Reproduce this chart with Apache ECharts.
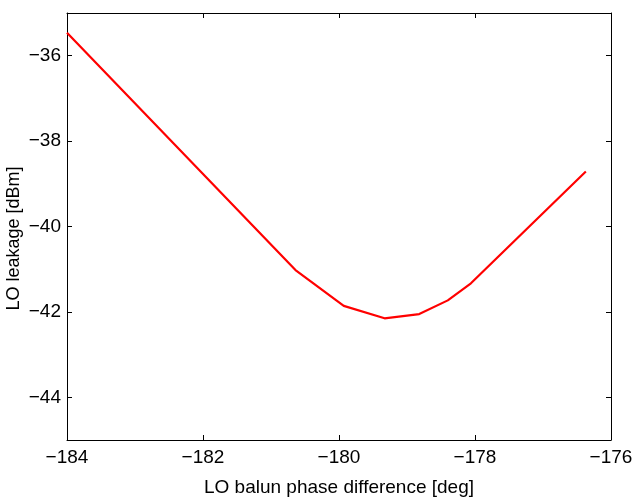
<!DOCTYPE html>
<html>
<head>
<meta charset="utf-8">
<script src="https://cdn.jsdelivr.net/npm/echarts@6/dist/echarts.min.js"></script>
<style>
html,body{margin:0;padding:0;background:#fff;}
#chart{width:633px;height:499px;}
</style>
</head>
<body>
<div id="chart"></div>
<script>
const phaseDeg = [-184, -180.64, -179.93, -179.33, -178.82, -178.40, -178.06, -176.37];
const leakageDbm = [-35.46, -41.02, -41.86, -42.15, -42.05, -41.73, -41.33, -38.71];
const xTicks = [-184, -182, -180, -178, -176];
const yTicks = [-44, -42, -40, -38, -36];

const fmt = v => String(v).replace('-', '\u2212');
const FONT = '"Liberation Sans", Arial, sans-serif';

const chart = echarts.init(document.getElementById('chart'), null, {renderer: 'canvas'});
const axisLine = {show: true, onZero: false, lineStyle: {color: '#000', width: 1}};
const tick = {show: true, inside: true, length: 5, lineStyle: {color: '#000', width: 1}};

chart.setOption({
  animation: false,
  backgroundColor: '#fff',
  grid: {left: 67, right: 22, top: 13, bottom: 59, containLabel: false, outerBoundsMode: 'none'},
  xAxis: [
    {
      type: 'value', min: -184, max: -176, interval: 2, position: 'bottom',
      name: 'LO balun phase difference [deg]', nameLocation: 'middle', nameGap: 38, nameMoveOverlap: false,
      nameTextStyle: {fontFamily: FONT, fontSize: 19, color: '#000'},
      axisLine: axisLine, axisTick: Object.assign({}, tick, {customValues: xTicks}),
      axisLabel: {customValues: xTicks, formatter: fmt, fontFamily: FONT, fontSize: 19, color: '#000', margin: 8},
      splitLine: {show: false}
    },
    {
      type: 'value', min: -184, max: -176, interval: 2, position: 'top',
      axisLine: axisLine, axisTick: Object.assign({}, tick, {customValues: xTicks}),
      axisLabel: {show: false}, splitLine: {show: false}
    }
  ],
  yAxis: [
    {
      type: 'value', min: -45, max: -35, position: 'left',
      name: 'LO leakage [dBm]', nameLocation: 'middle', nameGap: 44, nameMoveOverlap: false,
      nameTextStyle: {fontFamily: FONT, fontSize: 18, color: '#000', padding: [0, 24, 0, 0]},
      axisLine: axisLine, axisTick: Object.assign({}, tick, {customValues: yTicks}),
      axisLabel: {customValues: yTicks, formatter: fmt, fontFamily: FONT, fontSize: 19, color: '#000', margin: 6},
      splitLine: {show: false}
    },
    {
      type: 'value', min: -45, max: -35, position: 'right',
      axisLine: axisLine, axisTick: Object.assign({}, tick, {customValues: yTicks}),
      axisLabel: {show: false}, splitLine: {show: false}
    }
  ],
  series: [{
    type: 'line',
    data: phaseDeg.map((x, i) => [x, leakageDbm[i]]),
    showSymbol: false,
    lineStyle: {color: '#ff0000', width: 2.2},
    xAxisIndex: 0, yAxisIndex: 0
  }]
});
</script>
</body>
</html>
